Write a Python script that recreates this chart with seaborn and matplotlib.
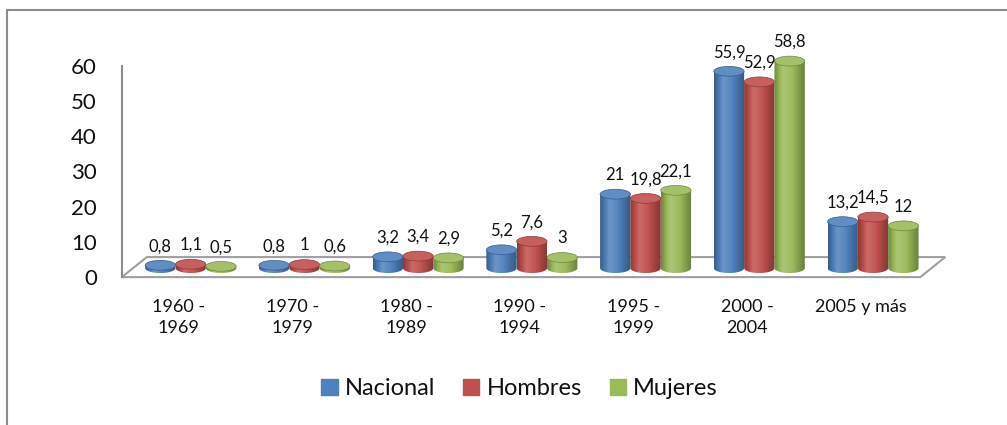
import numpy as np
import pandas as pd
import seaborn as sns
import matplotlib
matplotlib.use("Agg")
import matplotlib.pyplot as plt
from matplotlib import transforms
from matplotlib.path import Path
from matplotlib.patches import PathPatch, Ellipse, Polygon, Rectangle
from matplotlib.colors import to_rgb

# datos
periodos = ["1960 -\n1969", "1970 -\n1979", "1980 -\n1989", "1990 -\n1994",
            "1995 -\n1999", "2000 -\n2004", "2005 y más"]
nacional = [0.8, 0.8, 3.2, 5.2, 21, 55.9, 13.2]
hombres = [1.1, 1, 3.4, 7.6, 19.8, 52.9, 14.5]
mujeres = [0.5, 0.6, 2.9, 3, 22.1, 58.8, 12]
series = ["Nacional", "Hombres", "Mujeres"]
colores = ["#4F81BD", "#C0504D", "#9BBB59"]
yticks = [0, 10, 20, 30, 40, 50, 60]

df = pd.DataFrame({
    "periodo": periodos * 3,
    "serie": np.repeat(series, len(periodos)),
    "valor": nacional + hombres + mujeres,
})

sns.set_style("white")
plt.rcParams["font.family"] = ["Lato", "DejaVu Sans"]


def shade(base, t):
    # sombreado tipo cilindro: oscuro en bordes, brillo cerca del 30%
    f = np.interp(t, [0, 0.3, 0.55, 1], [-0.28, 0.16, 0.05, -0.32])
    c = np.array(to_rgb(base))
    if f >= 0:
        return c + (1 - c) * f
    return c * (1 + f)


fig = plt.figure(figsize=(10.07, 4.25), dpi=100)
ax = fig.add_axes([0.121, 0.348, 0.7905, 0.497])

sns.barplot(data=df, x="periodo", y="valor", hue="serie", palette=colores,
            width=0.8, saturation=1, legend=False, ax=ax)

# desplazamiento de la profundidad 3D
shift = transforms.ScaledTranslation(12 / 100, 9 / 100, fig.dpi_scale_trans)
trans = ax.transData + shift
e = 1.4  # media altura de la elipse en unidades de datos

bars = []
for i, cont in enumerate(ax.containers):
    for bar in cont:
        bars.append((bar, colores[i]))
        bar.set_visible(False)
bars.sort(key=lambda b: b[0].get_x())

for k, (bar, base) in enumerate(bars):
    x0, w, h = bar.get_x(), bar.get_width(), bar.get_height()
    cx = x0 + w / 2
    z = 3 + k * 0.01
    th = np.linspace(np.pi, 2 * np.pi, 40)
    verts = [(x0, h), (x0, 0)] + list(zip(cx + w / 2 * np.cos(th), e * np.sin(th))) \
        + [(x0 + w, h), (x0, h)]
    codes = [Path.MOVETO] + [Path.LINETO] * (len(verts) - 2) + [Path.CLOSEPOLY]
    body = PathPatch(Path(verts, codes), transform=trans, facecolor="none",
                     edgecolor="none")
    ax.add_patch(body)
    grad = np.array([shade(base, t) for t in np.linspace(0, 1, 64)])[None, :, :]
    im = ax.imshow(grad, extent=(x0, x0 + w, -e, h + e), transform=trans,
                   aspect="auto", interpolation="bicubic", zorder=z)
    im.set_clip_box(fig.bbox)
    im.set_clip_path(body)
    top = Ellipse((cx, h), w, 2 * e, transform=trans, zorder=z + 0.001,
                  facecolor=shade(base, 0.45), edgecolor=shade(base, 0.0),
                  lw=0.5, clip_on=False)
    ax.add_patch(top)
    txt = f"{h:g}".replace(".", ",")
    ax.annotate(txt, xy=(cx, h), xycoords=trans, xytext=(0, 8),
                textcoords="offset points", ha="center", va="bottom",
                fontsize=12, color="#111111", annotation_clip=False, zorder=10)

ax.set_xlim(-0.5, 6.5)
ax.set_ylim(0, 60)
ax.set_yticks(yticks)
ax.set_xlabel("")
ax.set_ylabel("")

for s in ["top", "right", "bottom"]:
    ax.spines[s].set_visible(False)
ax.spines["left"].set_color("#8c8c8c")
ax.spines["left"].set_linewidth(1.5)
ax.tick_params(axis="y", length=0, pad=18, labelsize=16, labelcolor="#111111")
ax.tick_params(axis="x", length=0, pad=16, labelsize=13, labelcolor="#111111")
for lab in ax.get_xticklabels():
    lab.set_linespacing(1.35)

# piso del grafico 3D
dx, dy = 25 / 796, 20 / 211
piso = Polygon([(0, 0), (1.003, 0), (1.003 + dx, dy), (dx, dy)], closed=True,
               transform=ax.transAxes, facecolor="white", edgecolor="#a0a0a0",
               lw=1.5, clip_on=False, zorder=1)
ax.add_patch(piso)

handles = [Rectangle((0, 0), 1, 1, color=c) for c in colores]
fig.legend(handles, series, loc="center", bbox_to_anchor=(0.516, 0.085), ncol=3,
           frameon=False, fontsize=17, handlelength=0.68, handleheight=0.68,
           handletextpad=0.3, columnspacing=1.2, labelcolor="#111111")

# marco exterior
fig.patches.append(Rectangle((7 / 1007, -0.05), 1.1, 1 - 10 / 425 + 0.05,
                             transform=fig.transFigure, fill=False,
                             edgecolor="#8c8c8c", lw=1.5))

fig.savefig("out.png", dpi=100)
